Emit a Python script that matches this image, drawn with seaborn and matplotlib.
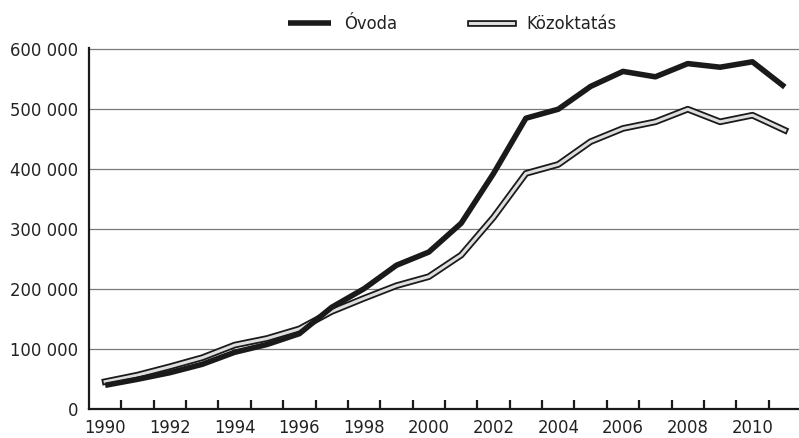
import matplotlib
matplotlib.use('Agg')

import matplotlib.pyplot as plt
import matplotlib.patheffects as pe
from matplotlib import font_manager
from matplotlib.ticker import FuncFormatter, FixedLocator
import pandas as pd
import seaborn as sns

# data
years = list(range(1990, 2012))
ovoda = [40000, 50000, 61000, 75000, 95000, 108000, 126000, 170000, 201000, 240000, 262000,
         310000, 393000, 485000, 500000, 538000, 563000, 554000, 576000, 570000, 579000, 537000]
kozoktatas = [46000, 57000, 71000, 86000, 107000, 118000, 134000, 163000, 185000, 206000, 221000,
              257000, 320000, 393000, 408000, 446000, 468000, 479000, 500000, 479000, 490000, 465000]
label_years = list(range(1990, 2011, 2))
y_ticks = [0, 100000, 200000, 300000, 400000, 500000, 600000]

df = pd.DataFrame({'Év': years, 'Óvoda': ovoda, 'Közoktatás': kozoktatas})

sns.set_theme(style='white')

# the reference uses a condensed grotesque; take a narrow face if one is installed
rank = {'condensed': 0, 'extra-condensed': 1, 'semi-condensed': 2}
cands = [f for f in font_manager.fontManager.ttflist
         if f.stretch in rank and f.style == 'normal'
         and f.weight in (400, 'normal', 'regular') and 'Mono' not in f.name]
cands.sort(key=lambda f: rank[f.stretch])
if cands:
    plt.rcParams['font.family'] = [cands[0].name, 'DejaVu Sans']
    plt.rcParams['font.stretch'] = cands[0].stretch
else:
    plt.rcParams['font.family'] = ['Roboto', 'DejaVu Sans']
plt.rcParams['text.color'] = '#222222'

fig = plt.figure(figsize=(7.99, 4.38), dpi=100)

# size the text so that "600 000" is as wide as in the reference (~68 px)
probe = fig.text(0, 0, '600 000', fontsize=15)
w = probe.get_window_extent(renderer=fig.canvas.get_renderer()).width
probe.remove()
fs = min(15.5, 15 * 68 / w)

ax = fig.add_axes([89 / 799, 28.7 / 438, 712 / 799, 361 / 438])

# grid first, lines over it
for v in y_ticks[1:]:
    ax.axhline(v, color='#7a7a7a', lw=0.9, zorder=1)

sns.lineplot(data=df, x='Év', y='Közoktatás', color='#dedede', lw=2.2, ax=ax,
             label='Közoktatás', zorder=3, solid_capstyle='projecting',
             path_effects=[pe.Stroke(linewidth=4.8, foreground='#1a1a1a'), pe.Normal()])
sns.lineplot(data=df, x='Év', y='Óvoda', color='#1a1a1a', lw=4.0, ax=ax,
             label='Óvoda', zorder=4, solid_capstyle='butt')

ax.set_xlim(1989.5, 2011.5)
ax.set_ylim(0, 601500)
ax.set_xlabel('')
ax.set_ylabel('')

ax.xaxis.set_major_locator(FixedLocator(label_years))
ax.xaxis.set_minor_locator(FixedLocator([y + 0.5 for y in years[:-1]]))
ax.tick_params(axis='x', which='major', length=0, pad=7, labelsize=fs, labelcolor='#222222')
ax.tick_params(axis='x', which='minor', direction='in', length=6.5, width=1.6,
               color='#1a1a1a', bottom=True)
ax.yaxis.set_major_locator(FixedLocator(y_ticks))
ax.yaxis.set_major_formatter(FuncFormatter(lambda v, p: f'{int(v):,}'.replace(',', ' ')))
ax.tick_params(axis='y', length=0, pad=8, labelsize=fs, labelcolor='#222222')

for s in ['top', 'right']:
    ax.spines[s].set_visible(False)
for s in ['left', 'bottom']:
    ax.spines[s].set_color('#1a1a1a')
    ax.spines[s].set_linewidth(1.6)
    ax.spines[s].set_zorder(5)

handles, labels = ax.get_legend_handles_labels()
ax.get_legend().remove()
order = [labels.index('Óvoda'), labels.index('Közoktatás')]
fig.legend([handles[i] for i in order], [labels[i] for i in order],
           loc='center', bbox_to_anchor=(0.566, 0.945), ncol=2, frameon=False,
           fontsize=fs, handlelength=2.35, handletextpad=0.7, columnspacing=4.0)

fig.savefig('out.png', dpi=100)
